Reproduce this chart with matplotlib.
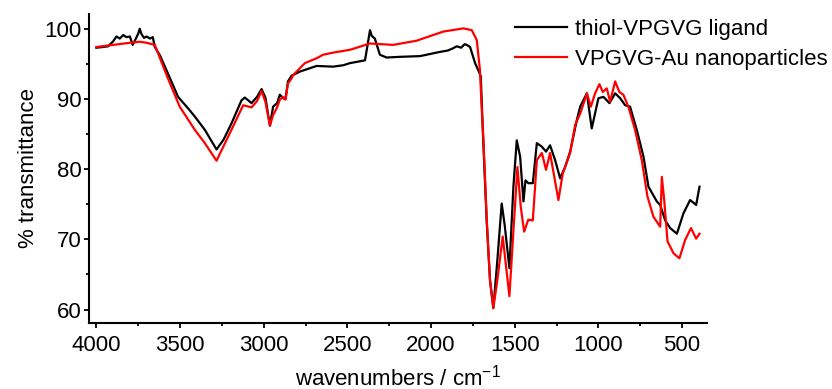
import numpy as np
import matplotlib
matplotlib.use('Agg')
import matplotlib.pyplot as plt
from matplotlib.ticker import MultipleLocator

# FTIR spectra (wavenumber in cm-1, % transmittance)
ligand_wn = [4000, 3960, 3930, 3900, 3880, 3860, 3840, 3820, 3800, 3783, 3770, 3750,
             3741, 3730, 3715, 3700, 3680, 3663, 3651, 3620, 3572, 3512, 3450, 3412,
             3352, 3282, 3240, 3193, 3133, 3113, 3073, 3040, 3013, 2990, 2963, 2944,
             2920, 2904, 2884, 2870, 2855, 2834, 2784, 2684, 2585, 2525, 2485, 2395,
             2385, 2365, 2355, 2336, 2306, 2266, 2186, 2066, 1987, 1947, 1900, 1870,
             1847, 1820, 1800, 1787, 1767, 1737, 1718, 1703, 1690, 1668, 1648, 1628,
             1604, 1578, 1560, 1532, 1508, 1488, 1468, 1448, 1436, 1419, 1392, 1368,
             1338, 1313, 1289, 1259, 1229, 1199, 1169, 1129, 1109, 1069, 1040, 1000,
             970, 934, 900, 870, 840, 811, 771, 731, 701, 651, 631, 601, 571, 531,
             492, 452, 416, 396]
ligand_t = [97.3, 97.4, 97.5, 98.2, 98.9, 98.6, 99.1, 98.8, 98.9, 97.7, 98.3, 99.3,
            100.0, 99.2, 98.7, 98.9, 98.6, 98.8, 97.4, 96.2, 93.6, 90.3, 88.6, 87.5,
            85.6, 82.8, 84.2, 86.5, 89.8, 90.2, 89.4, 90.3, 91.4, 90.2, 86.2, 88.9,
            89.4, 90.6, 90.1, 90.0, 92.5, 93.3, 93.9, 94.7, 94.6, 94.8, 95.1, 95.5,
            96.9, 99.8, 99.0, 98.6, 96.3, 95.9, 96.0, 96.1, 96.5, 96.7, 96.9, 97.2,
            97.5, 97.3, 97.8, 97.7, 97.4, 95.1, 94.1, 93.2, 85.0, 72.7, 64.2, 60.2,
            67.0, 75.1, 72.0, 65.9, 77.5, 84.1, 81.8, 75.4, 78.4, 78.0, 78.0, 83.7,
            83.2, 82.5, 83.4, 81.3, 78.7, 80.3, 82.5, 87.0, 88.9, 90.8, 85.8, 90.1,
            90.3, 89.4, 90.8, 90.1, 89.1, 88.9, 85.6, 81.8, 77.5, 75.4, 74.9, 72.7,
            71.6, 70.8, 73.7, 75.6, 74.9, 77.5]

np_wn = [4000, 3900, 3800, 3741, 3700, 3651, 3572, 3502, 3412, 3352, 3282, 3193,
         3123, 3073, 3040, 3013, 2990, 2963, 2944, 2920, 2904, 2884, 2870, 2855,
         2834, 2824, 2754, 2684, 2645, 2585, 2485, 2365, 2226, 2086, 1927, 1807,
         1757, 1727, 1708, 1694, 1688, 1667, 1648, 1628, 1604, 1572, 1532, 1504,
         1484, 1464, 1444, 1419, 1392, 1368, 1338, 1313, 1289, 1239, 1213, 1169,
         1139, 1109, 1069, 1045, 1020, 994, 974, 950, 930, 900, 875, 851, 821,
         781, 741, 707, 671, 631, 621, 607, 587, 551, 516, 482, 447, 416, 396]
np_t = [97.4, 97.7, 98.0, 98.15, 98.0, 97.7, 92.9, 88.9, 85.6, 83.7, 81.2, 85.6,
        89.1, 88.8, 89.7, 91.1, 89.6, 86.2, 87.7, 88.8, 89.9, 90.3, 89.9, 92.2,
        92.9, 93.4, 95.1, 95.8, 96.3, 96.6, 97.0, 97.9, 97.7, 98.3, 99.6, 100.05,
        99.8, 98.4, 94.1, 87.0, 84.6, 72.7, 64.2, 60.2, 64.2, 70.4, 61.9, 72.7,
        80.3, 74.6, 71.1, 72.8, 72.7, 81.3, 82.3, 79.9, 82.3, 75.6, 79.4, 82.3,
        86.3, 87.9, 90.8, 88.9, 90.8, 92.1, 91.0, 91.5, 89.6, 92.5, 91.0, 90.6, 88.9,
        85.6, 81.3, 76.1, 73.2, 71.8, 78.9, 75.6, 69.7, 68.0, 67.3, 69.9, 71.6, 70.1, 70.8]

plt.rcParams['font.family'] = ['Liberation Sans', 'DejaVu Sans']

fig = plt.figure(figsize=(8.32, 3.89), dpi=100)
ax = fig.add_axes([0.107, 0.17, 0.743, 0.794])

ax.plot(ligand_wn, ligand_t, color='black', lw=1.6, label='thiol-VPGVG ligand')
ax.plot(np_wn, np_t, color='#ff0000', lw=1.6, label='VPGVG-Au nanoparticles')

ax.set_xlim(4044, 350)
ax.set_ylim(58.1, 102.1)
ax.xaxis.set_major_locator(MultipleLocator(500))
ax.xaxis.set_minor_locator(MultipleLocator(250))
ax.yaxis.set_major_locator(MultipleLocator(10))
ax.yaxis.set_minor_locator(MultipleLocator(5))

for side in ['top', 'right']:
    ax.spines[side].set_visible(False)
for side in ['left', 'bottom']:
    ax.spines[side].set_linewidth(1.5)

ax.tick_params(which='major', direction='out', length=3.5, width=1.3, labelsize=16, pad=2)
ax.tick_params(axis='x', which='major', pad=5.5)
ax.tick_params(which='minor', direction='out', length=2.5, width=1.3)

ax.set_xlabel('wavenumbers / cm$^{\\mathregular{-1}}$', fontsize=16, labelpad=6)
ax.set_ylabel('% transmittance', fontsize=16, labelpad=4)

fig.legend(loc='upper left', bbox_to_anchor=(0.619, 0.952), frameon=False,
           fontsize=16, handlelength=2.34, handletextpad=0.36, labelspacing=0.42,
           borderaxespad=0, borderpad=0)

fig.savefig('out.png', dpi=100)
